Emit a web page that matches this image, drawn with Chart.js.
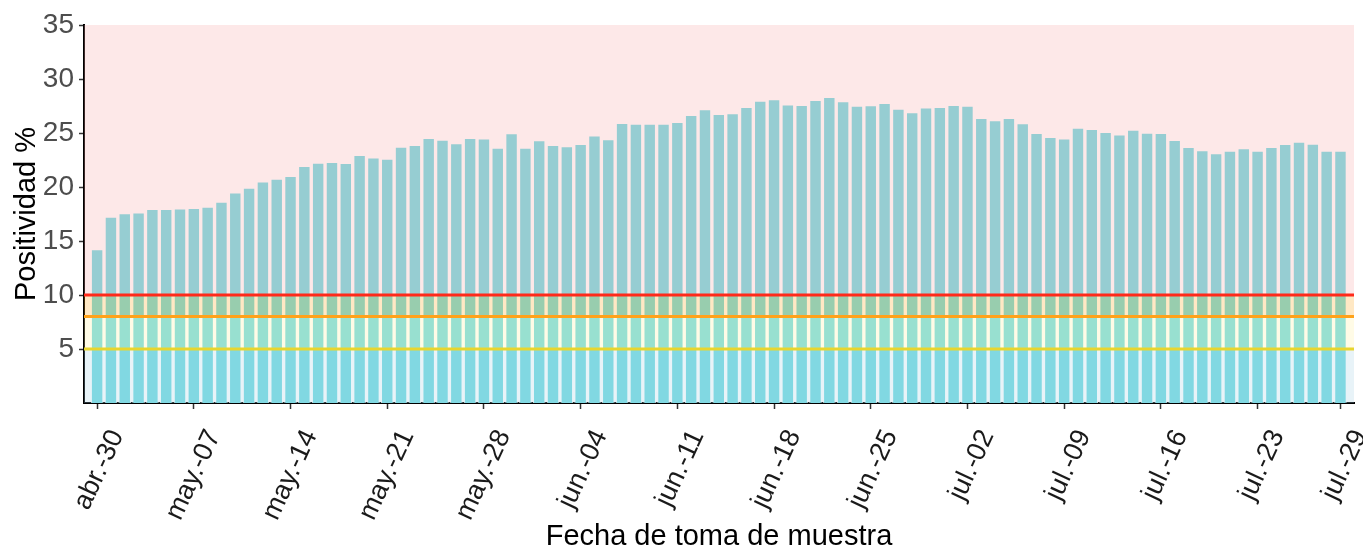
<!DOCTYPE html>
<html>
<head>
<meta charset="utf-8">
<script src="https://cdn.jsdelivr.net/npm/chart.js@4/dist/chart.umd.min.js"></script>
<style>
  html, body { margin: 0; padding: 0; background: #ffffff; }
  #wrap { width: 1363px; height: 554px; }
</style>
</head>
<body>
<div id="wrap"><canvas id="myChart" width="1363" height="554"></canvas></div>
<script>
// Positividad diaria (%) desde abr-30 hasta jul-29
const inicio = new Date(2020, 3, 30);
const meses = ['ene.', 'feb.', 'mar.', 'abr.', 'may.', 'jun.', 'jul.', 'ago.', 'sep.', 'oct.', 'nov.', 'dic.'];

const positividad = [
  14.23, 17.25, 17.56, 17.65, 17.96, 17.96, 18.02, 18.06, 18.18, 18.64,
  19.48, 19.94, 20.52, 20.77, 21.02, 21.94, 22.25, 22.31, 22.22, 22.96,
  22.72, 22.62, 23.73, 23.89, 24.54, 24.38, 24.04, 24.54, 24.48, 23.64,
  24.97, 23.64, 24.32, 23.89, 23.77, 23.98, 24.78, 24.41, 25.93, 25.86,
  25.86, 25.86, 26.02, 26.67, 27.19, 26.76, 26.82, 27.41, 27.99, 28.12,
  27.65, 27.59, 28.06, 28.33, 27.93, 27.53, 27.56, 27.78, 27.25, 26.91,
  27.35, 27.41, 27.59, 27.53, 26.39, 26.17, 26.39, 25.90, 25.00, 24.63,
  24.48, 25.49, 25.37, 25.09, 24.85, 25.31, 25.03, 25.00, 24.35, 23.70,
  23.40, 23.12, 23.36, 23.58, 23.36, 23.70, 23.98, 24.20, 24.01, 23.36,
  23.36
];

// one date label per bar
const fechas = positividad.map((v, i) => {
  const d = new Date(inicio.getFullYear(), inicio.getMonth(), inicio.getDate() + i);
  return meses[d.getMonth()] + '-' + String(d.getDate()).padStart(2, '0');
});

// which days get a tick label on the x axis
const diasTick = [0, 7, 14, 21, 28, 35, 42, 49, 56, 63, 70, 77, 84, 90];
const yTicks = [5, 10, 15, 20, 25, 30, 35];

// colour bands (drawn over the bars) and threshold lines
const bandas = [
  { desde: 0, hasta: 5, color: 'rgba(163, 207, 227, 0.25)' },
  { desde: 5, hasta: 8, color: 'rgba(255, 239, 155, 0.25)' },
  { desde: 8, hasta: 10, color: 'rgba(255, 163, 19, 0.25)' },
  { desde: 10, hasta: 35, color: 'rgba(247, 163, 163, 0.25)' }
];
const umbrales = [
  { valor: 5, color: '#e8d52e' },
  { valor: 8, color: '#ffa21a' },
  { valor: 10, color: '#ff2a1a' }
];

const fuente = 'Liberation Sans, Arial, sans-serif';

const bandasPlugin = {
  id: 'bandas',
  beforeDraw(chart) {
    const ctx = chart.ctx;
    ctx.save();
    ctx.fillStyle = '#ffffff';
    ctx.fillRect(0, 0, chart.width, chart.height);
    ctx.restore();
  },
  afterDatasetsDraw(chart) {
    const { ctx, chartArea, scales } = chart;
    const y = scales.y;
    ctx.save();
    bandas.forEach((b) => {
      const top = y.getPixelForValue(b.hasta);
      const bottom = y.getPixelForValue(b.desde);
      ctx.fillStyle = b.color;
      ctx.fillRect(chartArea.left, top, chartArea.right - chartArea.left, bottom - top);
    });
    umbrales.forEach((u) => {
      const py = y.getPixelForValue(u.valor);
      ctx.strokeStyle = u.color;
      ctx.lineWidth = 3;
      ctx.beginPath();
      ctx.moveTo(chartArea.left, py);
      ctx.lineTo(chartArea.right, py);
      ctx.stroke();
    });
    ctx.restore();
  }
};

const ctx = document.getElementById('myChart').getContext('2d');
const myChart = new Chart(ctx, {
  type: 'bar',
  data: {
    datasets: [{
      data: positividad.map((v, i) => ({ x: i, y: v })),
      backgroundColor: 'rgb(118, 219, 226)',
      borderColor: 'rgba(255, 255, 255, 0.85)',
      borderWidth: 1,
      barPercentage: 0.9,
      categoryPercentage: 1.0
    }]
  },
  options: {
    responsive: false,
    animation: false,
    layout: { padding: { left: 0, top: 25, right: 9, bottom: 0 } },
    plugins: {
      legend: { display: false },
      tooltip: { enabled: false }
    },
    scales: {
      x: {
        type: 'linear',
        min: -0.95,
        max: 90.98,
        offset: false,
        z: 1,
        grid: { offset: false, drawOnChartArea: false, tickLength: 6, color: '#333333', tickWidth: 1.5 },
        border: { color: '#000000', width: 2 },
        afterBuildTicks: (scale) => {
          scale.ticks = diasTick.map((d) => ({ value: d }));
        },
        afterFit: (scale) => {
          scale.height = 151;
          scale.paddingLeft = 0;
          scale.paddingRight = 0;
        },
        ticks: {
          autoSkip: false,
          minRotation: 65,
          maxRotation: 65,
          padding: 16,
          labelOffset: 20,
          color: '#1a1a1a',
          font: { family: fuente, size: 27 },
          callback: (value) => fechas[value]
        },
        title: {
          display: true,
          text: 'Fecha de toma de muestra',
          color: '#000000',
          padding: { top: 0, bottom: 0 },
          font: { family: fuente, size: 29 }
        }
      },
      y: {
        min: 0,
        max: 35,
        z: 1,
        grid: { drawOnChartArea: false, tickLength: 5, color: '#333333', tickWidth: 1.5 },
        border: { color: '#000000', width: 2 },
        afterBuildTicks: (scale) => {
          scale.ticks = yTicks.map((v) => ({ value: v }));
        },
        afterFit: (scale) => { scale.width = 84; },
        ticks: {
          padding: 5,
          color: '#4d4d4d',
          font: { family: fuente, size: 28 }
        },
        title: {
          display: true,
          text: 'Positividad %',
          color: '#000000',
          padding: { top: 10, bottom: 0 },
          font: { family: fuente, size: 29 }
        }
      }
    }
  },
  plugins: [bandasPlugin]
});
</script>
</body>
</html>
